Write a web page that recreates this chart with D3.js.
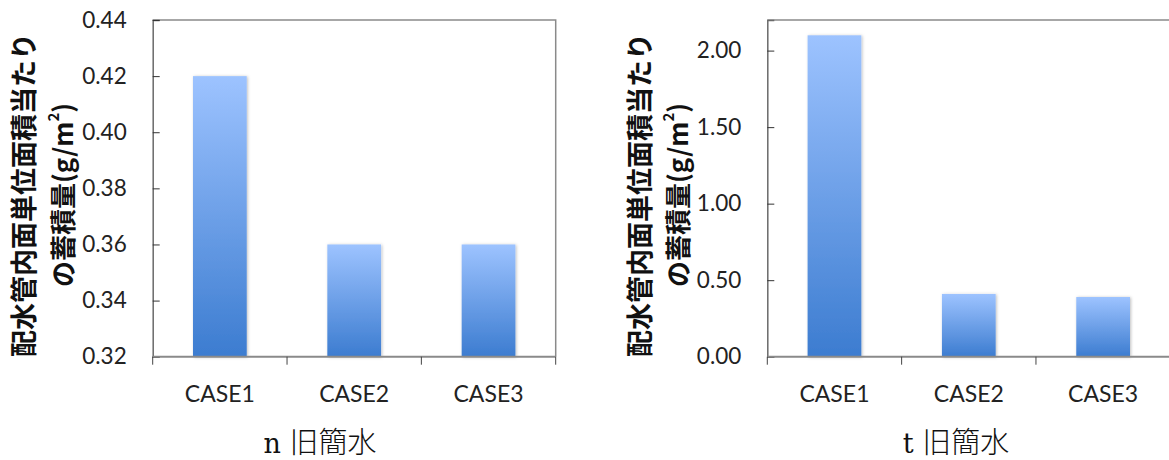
<!DOCTYPE html>
<html><head><meta charset="utf-8">
<script src="https://cdn.jsdelivr.net/npm/d3@7"></script>
<style>
html,body{margin:0;padding:0;background:#fff;}
svg{display:block;}
</style></head>
<body>
<svg id="c" width="1169" height="460"></svg>
<script>
const categories = ["CASE1", "CASE2", "CASE3"];
const valuesN = [0.42, 0.36, 0.36];
const valuesT = [2.10, 0.41, 0.39];
const ticksN = [0.32, 0.34, 0.36, 0.38, 0.40, 0.42, 0.44];
const ticksT = [0.00, 0.50, 1.00, 1.50, 2.00];
const domainN = [0.32, 0.44];
const domainT = [0, 2.2];
const yTitle1 = "配水管内面単位面積当たり";
const yTitle2 = "の蓄積量(g/m";
const titleN = ["n", "旧簡水"];
const titleT = ["t", "旧簡水"];

const svg = d3.select("#c");
const defs = svg.append("defs");
const grad = defs.append("linearGradient").attr("id","barGrad")
  .attr("x1",0).attr("y1",0).attr("x2",0).attr("y2",1);
grad.append("stop").attr("offset","0%").attr("stop-color","#9dc3ff");
grad.append("stop").attr("offset","100%").attr("stop-color","#3c7cd0");
const f = defs.append("filter").attr("id","sh").attr("x","-20%").attr("y","-20%").attr("width","140%").attr("height","140%");
f.append("feDropShadow").attr("dx",1).attr("dy",0.5).attr("stdDeviation",1.5).attr("flood-color","#000").attr("flood-opacity",0.25);

const tickFont = "Lato, 'Open Sans', sans-serif";
const jpFont = "'Noto Sans CJK JP', sans-serif";

function drawChart(opt){
  const {x0, x1, top, bottom, domain, ticks, values, title, titleX, yTitleX1, yTitleX2} = opt;
  const g = svg.append("g");
  const x = d3.scaleBand().domain(categories).range([x0, x1]).paddingInner(0.6).paddingOuter(0.3);
  const y = d3.scaleLinear().domain(domain).range([bottom, top]);

  // frame (top & right)
  g.append("path").attr("d", `M${x0},${top}H${x1}V${bottom}`)
    .attr("fill","none").attr("stroke","#8a8a8a").attr("stroke-width",1.5);

  // bars
  g.selectAll("rect.bar").data(values).join("rect").attr("class","bar")
    .attr("x",(d,i)=>x(categories[i])).attr("width",x.bandwidth())
    .attr("y",d=>y(d)).attr("height",d=>bottom - y(d))
    .attr("fill","url(#barGrad)").attr("filter","url(#sh)");

  // y axis
  const ya = d3.axisLeft(y).tickValues(ticks).tickSize(-7).tickPadding(26)
    .tickFormat(d3.format(".2f"));
  const yg = g.append("g").attr("transform",`translate(${x0},0)`).call(ya);
  yg.select(".domain").attr("stroke","#6a6a6a").attr("stroke-width",1.5);
  yg.selectAll(".tick line").attr("stroke","#333").attr("stroke-width",1);
  yg.selectAll(".tick text").attr("font-family",tickFont).attr("font-size",22.5).attr("fill","#222");

  // x axis
  const xg = g.append("g").attr("transform",`translate(0,${bottom})`);
  xg.append("line").attr("x1",x0).attr("x2",x1).attr("y1",0).attr("y2",0)
    .attr("stroke","#8a8a8a").attr("stroke-width",2);
  const bounds = categories.map(c=>x(c) - x.step()*x.paddingInner()/2).concat([x1]);
  bounds[0] = x0;
  xg.selectAll("line.tk").data(bounds).join("line").attr("class","tk")
    .attr("x1",d=>d).attr("x2",d=>d).attr("y1",0).attr("y2",8)
    .attr("stroke","#444").attr("stroke-width",1);
  xg.selectAll("text").data(categories).join("text")
    .attr("x",d=>x(d)+x.bandwidth()/2).attr("y",36)
    .attr("text-anchor","middle").attr("dominant-baseline","central")
    .attr("font-family",tickFont).attr("font-size",23).attr("fill","#222").text(d=>d);

  // y title
  const cy = 195;
  g.append("text").attr("transform",`translate(${yTitleX1},${cy}) rotate(-90)`)
    .attr("text-anchor","middle").attr("dominant-baseline","central")
    .attr("font-family",jpFont).attr("font-weight","bold").attr("font-size",27).attr("fill","#111")
    .text(yTitle1);
  const t2 = g.append("text").attr("transform",`translate(${yTitleX2},${cy}) rotate(-90)`)
    .attr("text-anchor","middle").attr("dominant-baseline","central")
    .attr("font-family",jpFont).attr("font-weight","bold").attr("font-size",26).attr("fill","#111");
  t2.append("tspan").text(yTitle2);
  t2.append("tspan").attr("font-size",15).attr("dy",-9).text("2");
  t2.append("tspan").attr("dy",9).text(")");

  // bottom title
  const bt = g.append("text").attr("x",titleX).attr("y",453)
    .attr("text-anchor","middle").attr("fill","#111");
  bt.append("tspan").attr("font-family","'DejaVu Serif','Liberation Serif',serif").attr("font-size",27).text(title[0]+" ");
  bt.append("tspan").attr("font-family",jpFont).attr("font-weight",300).attr("font-size",29).text(title[1]);
}

drawChart({x0:152.7, x1:555.7, top:20, bottom:356.7, domain:domainN, ticks:ticksN, values:valuesN,
  title:titleN, titleX:320, yTitleX1:22, yTitleX2:61});
drawChart({x0:767.3, x1:1170.3, top:20, bottom:356.7, domain:domainT, ticks:ticksT, values:valuesT,
  title:titleT, titleX:956, yTitleX1:638, yTitleX2:676});
</script>
</body></html>
